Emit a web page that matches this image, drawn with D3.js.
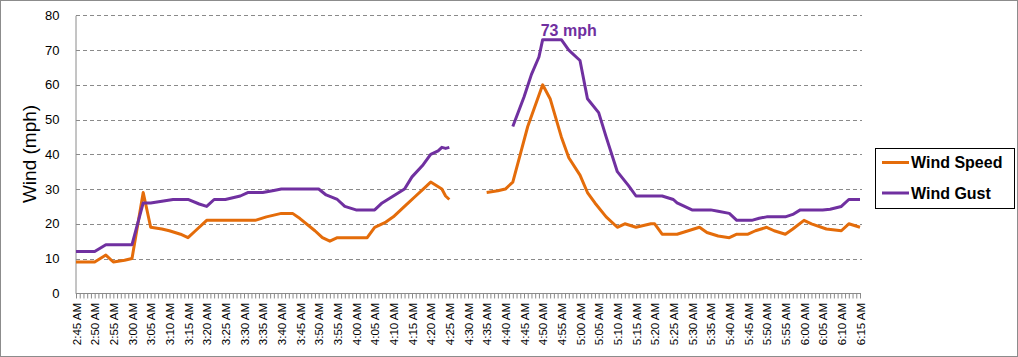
<!DOCTYPE html>
<html>
<head>
<meta charset="utf-8">
<script src="https://cdn.jsdelivr.net/npm/d3@7/dist/d3.min.js"></script>
<style>
  html, body { margin: 0; padding: 0; background: #fff; }
  svg { display: block; font-family: "Liberation Sans", Arial, sans-serif; }
</style>
</head>
<body>
<svg id="chart" width="1018" height="357"></svg>
<script>
// ---- data ----
const tickLabels = ["2:45 AM","2:50 AM","2:55 AM","3:00 AM","3:05 AM","3:10 AM","3:15 AM","3:20 AM","3:25 AM","3:30 AM","3:35 AM","3:40 AM","3:45 AM","3:50 AM","3:55 AM","4:00 AM","4:05 AM","4:10 AM","4:15 AM","4:20 AM","4:25 AM","4:30 AM","4:35 AM","4:40 AM","4:45 AM","4:50 AM","4:55 AM","5:00 AM","5:05 AM","5:10 AM","5:15 AM","5:20 AM","5:25 AM","5:30 AM","5:35 AM","5:40 AM","5:45 AM","5:50 AM","5:55 AM","6:00 AM","6:05 AM","6:10 AM","6:15 AM"];
const yTicks = [0,10,20,30,40,50,60,70,80];

const speedTimes  = ["2:45","2:50","2:53","2:55","2:58","3:00","3:03","3:05","3:08","3:10","3:13","3:15","3:17","3:20","3:33","3:36","3:38","3:40","3:43","3:45","3:49","3:51","3:53","3:55","4:03","4:05","4:08","4:10","4:13","4:16","4:18","4:20","4:23","4:24","4:25","4:30","4:35","4:38","4:40","4:42","4:44","4:46","4:50","4:52","4:55","4:57","5:00","5:02","5:04","5:07","5:10","5:12","5:15","5:19","5:20","5:22","5:26","5:29","5:32","5:34","5:37","5:40","5:42","5:45","5:47","5:50","5:52","5:55","5:57","6:00","6:02","6:06","6:10","6:12","6:15"];
const speedValues = [9,9,11,9,9.5,10,29,19,18.5,18,17,16,18,21,21,22,22.5,23,23,21.5,18,16,15,16,16,19,20.5,22,25,28,30,32,30,28,27,null,29,29.5,30,32,40,48,60,56,45,39,34,29,26,22,19,20,19,20,20,17,17,18,19,17.5,16.5,16,17,17,18,19,18,17,18.5,21,20,18.5,18,20,19];

const gustTimes  = ["2:45","2:50","2:53","3:00","3:03","3:05","3:08","3:11","3:15","3:18","3:20","3:22","3:25","3:29","3:31","3:35","3:38","3:40","3:50","3:52","3:55","3:57","4:00","4:05","4:07","4:10","4:13","4:15","4:18","4:20","4:22","4:23","4:24","4:25","4:30","4:42","4:45","4:47","4:49","4:50","4:55","4:57","5:00","5:02","5:05","5:07","5:10","5:13","5:15","5:22","5:25","5:26","5:30","5:35","5:37","5:40","5:42","5:46","5:48","5:50","5:55","5:57","5:59","6:05","6:07","6:10","6:12","6:15"];
const gustValues = [12,12,14,14,26,26,26.5,27,27,25.7,25,27,27,28,29,29,29.6,30,30,28.3,27,25,24,24,26,28,30,33.5,37,40,41,42,41.7,42,null,48,56.5,63,68,73,73,70,67,56,52,45,35,31,28,28,27,26,24,24,23.6,23,21,21,21.6,22,22,22.7,24,24,24.2,25,27,27];

const seriesNames = ["Wind Speed","Wind Gust"];
const seriesColors = ["#E46C0A","#7030A0"];
const peakLabel = "73 mph";
const peakTime = "4:50";
const peakValue = 73;
const yTitle = "Wind (mph)";

// ---- drawing ----
const parse = d3.timeParse("%H:%M");
const svg = d3.select("#chart");
const W = 1018, H = 357;

svg.append("rect").attr("x",0.5).attr("y",0.5).attr("width",W-1).attr("height",H-1)
  .attr("fill","#fff").attr("stroke","#8c8c8c");

const x = d3.scaleTime().domain([parse("2:45"), parse("6:15")]).range([76, 860]);
const y = d3.scaleLinear().domain([0, 80]).range([293.3, 15.3]);

// gridlines
svg.append("g").selectAll("line").data(yTicks.filter(d => d > 0)).join("line")
  .attr("x1", 76).attr("x2", 862)
  .attr("y1", d => Math.round(y(d)) + 0.5).attr("y2", d => Math.round(y(d)) + 0.5)
  .attr("stroke", "#8a8a8a").attr("stroke-dasharray", "4,3").attr("stroke-width", 1);

// y axis
const yAxis = svg.append("g").attr("transform", "translate(75.5,0)")
  .call(d3.axisLeft(y).tickValues(yTicks).tickSize(0).tickPadding(16));
yAxis.select(".domain").attr("stroke", "#8a8a8a");
yAxis.selectAll("text").attr("font-size", 13).attr("fill", "#000")
  .attr("font-family", "Liberation Sans, Arial, sans-serif");

// x axis: minor ticks every minute, labels every 5 minutes
const minuteTicks = d3.timeMinute.range(parse("2:45"), d3.timeMinute.offset(parse("6:15"), 1));
const xAxis = svg.append("g").attr("transform", "translate(0,293.5)")
  .call(d3.axisBottom(x).tickValues(minuteTicks).tickSize(5).tickFormat(""));
xAxis.select(".domain").attr("stroke", "#8a8a8a").attr("d", "M76,0H861");
xAxis.selectAll(".tick line").attr("stroke", "#8a8a8a");

const labelTimes = tickLabels.map(s => parse(s.replace(" AM", "")));
svg.append("g").selectAll("text").data(tickLabels).join("text")
  .attr("transform", (d, i) => `translate(${x(labelTimes[i]) + 0.5},303) rotate(-90)`)
  .attr("text-anchor", "end").attr("dy", "0.35em")
  .attr("font-size", 11.5).attr("fill", "#000").text(d => d);

// y title
svg.append("text").attr("transform", "translate(36,154) rotate(-90)")
  .attr("text-anchor", "middle").attr("font-size", 19).attr("fill", "#000").text(yTitle);

// lines
const line = d3.line().defined(d => d.v !== null).x(d => x(d.t)).y(d => y(d.v));
const speed = speedTimes.map((t, i) => ({ t: parse(t), v: speedValues[i] }));
const gust = gustTimes.map((t, i) => ({ t: parse(t), v: gustValues[i] }));
[speed, gust].forEach((s, i) => {
  svg.append("path").datum(s).attr("d", line).attr("fill", "none")
    .attr("stroke", seriesColors[i]).attr("stroke-width", 3).attr("stroke-linejoin", "round");
});

// peak label
svg.append("text").attr("x", x(parse(peakTime)) - 2).attr("y", y(peakValue) - 4)
  .attr("text-anchor", "start").attr("font-size", 16).attr("font-weight", "bold")
  .attr("fill", seriesColors[1]).text(peakLabel);

// legend
const lg = svg.append("g");
lg.append("rect").attr("x", 875.5).attr("y", 148.5).attr("width", 139).attr("height", 60)
  .attr("fill", "#fff").attr("stroke", "#000");
seriesNames.forEach((n, i) => {
  const yy = 162.5 + i * 30.5;
  lg.append("line").attr("x1", 882).attr("x2", 909).attr("y1", yy).attr("y2", yy)
    .attr("stroke", seriesColors[i]).attr("stroke-width", 3);
  lg.append("text").attr("x", 911).attr("y", yy + 5.5).attr("font-size", 16)
    .attr("font-weight", "bold").attr("fill", "#000").text(n);
});
</script>
</body>
</html>
